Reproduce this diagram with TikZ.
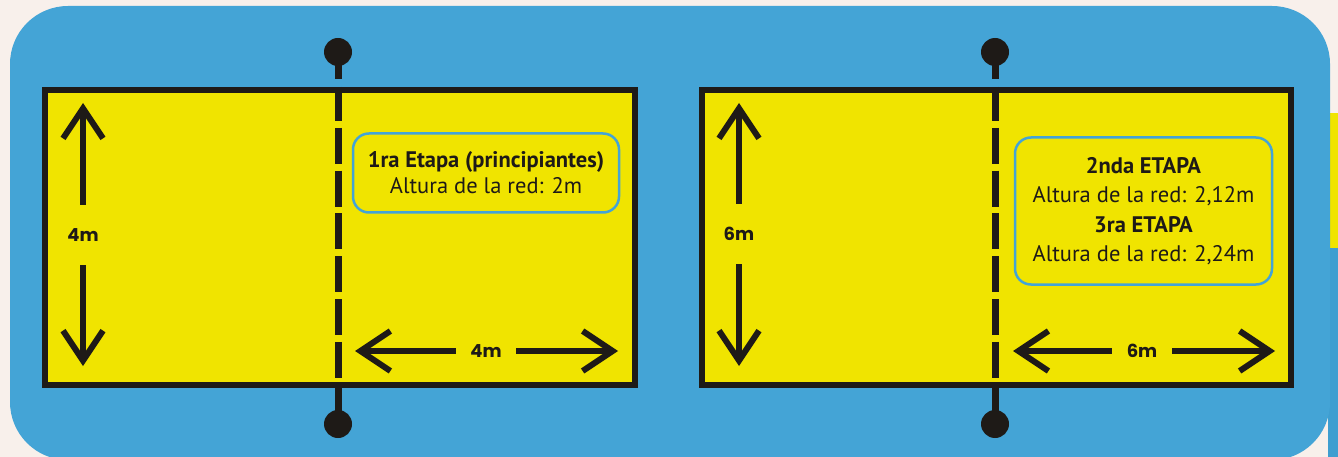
\documentclass[tikz,border=0pt]{standalone}
\usepackage{fontspec}
\setmainfont{PT Sans}
\newfontfamily\labelfont{Poppins}
\usetikzlibrary{arrows.meta}
\definecolor{bgcream}{HTML}{F8F0EB}
\definecolor{skyblue}{HTML}{44A4D6}
\definecolor{skyblue2}{HTML}{3F9ED0}
\definecolor{courtyellow}{HTML}{F0E400}
\definecolor{ink}{HTML}{1E1A17}
\begin{document}
\begin{tikzpicture}[x=1pt,y=-1pt,
  court/.style={draw=ink, fill=courtyellow, line width=6pt, inner sep=0pt},
  netline/.style={draw=ink, line width=7pt, dash pattern=on 36pt off 6.8pt, dash phase=2pt},
  stem/.style={draw=ink, line width=7pt},
  post/.style={circle, fill=ink, minimum size=28pt, inner sep=0pt},
  dimarrow/.style={draw=ink, line width=6pt, -{Straight Barb[length=30pt,width=40pt]}},
  dimlabel/.style={circle, minimum size=60pt, inner sep=0pt, text=ink, font=\labelfont\bfseries\fontsize{18}{20}\selectfont},
  infobox/.style={draw=skyblue, line width=2.5pt, rounded corners=16pt, align=center, text=ink, inner sep=0pt, font=\fontsize{22.5}{26}\selectfont}
]
\useasboundingbox (0,0) rectangle (1338,457);
\fill[bgcream] (0,0) rectangle (1338,457);
\fill[courtyellow] (1328,113) rectangle (1338,248);
\fill[skyblue2] (1328,248) rectangle (1338,457);
\fill[skyblue, rounded corners=58pt] (10,6) rectangle (1330,460);

% left court
\node[court, minimum width=590pt, minimum height=295pt] (c1) at (340,237.5) {};
\node[post] (p1t) at (338,52) {};
\node[post] (p1b) at (338,424) {};
\draw[stem, shorten >=8pt] (p1t.center) -- (p1t |- c1.north);
\draw[netline] (p1t |- c1.north) -- (p1b |- c1.south);
\draw[stem] (p1b |- c1.south) -- (p1b.center);

\node[dimlabel] (d1v) at (83,235) {4m};
\coordinate (a1t) at (83,103);
\coordinate (a1b) at (83,366);
\draw[dimarrow] (d1v) -- (a1t);
\draw[dimarrow] (d1v) -- (a1b);
\node[dimlabel] (d1h) at (486,351) {4m};
\coordinate (a1l) at (355,351);
\coordinate (a1r) at (618,351);
\draw[dimarrow] (d1h) -- (a1l);
\draw[dimarrow] (d1h) -- (a1r);

\node[infobox, minimum width=266pt, minimum height=79pt] (b1) at (486,173)
  {\textbf{1ra Etapa (principiantes)}\\Altura de la red: 2m};

% right court
\node[court, minimum width=589pt, minimum height=295pt] (c2) at (996.5,237.5) {};
\node[post] (p2t) at (995,52) {};
\node[post] (p2b) at (995,424) {};
\draw[stem, shorten >=8pt] (p2t.center) -- (p2t |- c2.north);
\draw[netline] (p2t |- c2.north) -- (p2b |- c2.south);
\draw[stem] (p2b |- c2.south) -- (p2b.center);

\node[dimlabel] (d2v) at (739,234) {6m};
\coordinate (a2t) at (739,103);
\coordinate (a2b) at (739,366);
\draw[dimarrow] (d2v) -- (a2t);
\draw[dimarrow] (d2v) -- (a2b);
\node[dimlabel] (d2h) at (1142,351) {6m};
\coordinate (a2l) at (1013,351);
\coordinate (a2r) at (1275,351);
\draw[dimarrow] (d2h) -- (a2l);
\draw[dimarrow] (d2h) -- (a2r);

\node[infobox, minimum width=257pt, minimum height=147pt, font=\fontsize{22.5}{29.3}\selectfont] (b2) at (1143.5,211)
  {\textbf{2nda ETAPA}\\Altura de la red: 2,12m\\\textbf{3ra ETAPA}\\Altura de la red: 2,24m};
\end{tikzpicture}
\end{document}
